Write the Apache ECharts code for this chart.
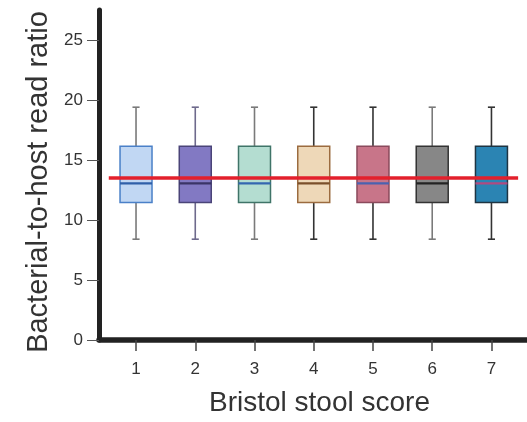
<!DOCTYPE html>
<html>
<head>
<meta charset="utf-8">
<title>Bacterial-to-host read ratio</title>
<script src="https://cdn.jsdelivr.net/npm/echarts@6/dist/echarts.min.js"></script>
<style>
  html, body { margin: 0; padding: 0; background: #fff; }
  #chart { width: 527px; height: 422px; }
</style>
</head>
<body>
<div id="chart"></div>
<script>
// Bristol stool score categories
var categories = [1, 2, 3, 4, 5, 6, 7];
// box stats per score
var whiskerLow = [8.4, 8.4, 8.4, 8.4, 8.4, 8.4, 8.4];
var q1 = [11.45, 11.45, 11.45, 11.45, 11.45, 11.45, 11.45];
var median = [13.05, 13.05, 13.05, 13.05, 13.05, 13.05, 13.05];
var q3 = [16.15, 16.15, 16.15, 16.15, 16.15, 16.15, 16.15];
var whiskerHigh = [19.4, 19.4, 19.4, 19.4, 19.4, 19.4, 19.4];
// overall mean line and the x-span it covers
var refValue = 13.5;
var refSpan = [0.54, 7.45];
var yTicks = [0, 5, 10, 15, 20, 25];

// colours for each box: fill, border, median, whisker
var boxStyles = [
  { fill: '#c1d7f3', border: '#4a80c8', median: '#2f5fa8', whisker: '#7a7a7a' },
  { fill: '#8279c3', border: '#4a4478', median: '#3a3466', whisker: '#6e6a8c' },
  { fill: '#b4ddd1', border: '#3f7468', median: '#3466b0', whisker: '#7a7a7a' },
  { fill: '#eed8b8', border: '#9b6b3f', median: '#7a4f2a', whisker: '#333333' },
  { fill: '#c87589', border: '#8a4a5c', median: '#4a62b0', whisker: '#333333' },
  { fill: '#878787', border: '#333333', median: '#222222', whisker: '#7a7a7a' },
  { fill: '#2b84b3', border: '#1f3442', median: '#b04a80', whisker: '#333333' }
];

var boxData = categories.map(function (c, i) {
  return [c, whiskerLow[i], q1[i], median[i], q3[i], whiskerHigh[i]];
});

function renderBox(params, api) {
  var x = api.value(0);
  var lo = api.coord([x, api.value(1)]);
  var b1 = api.coord([x, api.value(2)]);
  var md = api.coord([x, api.value(3)]);
  var b3 = api.coord([x, api.value(4)]);
  var hi = api.coord([x, api.value(5)]);
  var bw = api.size([0.54, 0])[0];
  var cw = api.size([0.12, 0])[0];
  var s = boxStyles[params.dataIndex];
  var wl = { stroke: s.whisker, lineWidth: 1.6 };
  return {
    type: 'group',
    children: [
      { type: 'line', shape: { x1: lo[0], y1: lo[1], x2: b1[0], y2: b1[1] }, style: wl },
      { type: 'line', shape: { x1: b3[0], y1: b3[1], x2: hi[0], y2: hi[1] }, style: wl },
      { type: 'line', shape: { x1: lo[0] - cw / 2, y1: lo[1], x2: lo[0] + cw / 2, y2: lo[1] }, style: wl },
      { type: 'line', shape: { x1: hi[0] - cw / 2, y1: hi[1], x2: hi[0] + cw / 2, y2: hi[1] }, style: wl },
      {
        type: 'rect',
        shape: { x: b3[0] - bw / 2, y: b3[1], width: bw, height: b1[1] - b3[1] },
        style: { fill: s.fill, stroke: s.border, lineWidth: 1.5 }
      },
      {
        type: 'line',
        shape: { x1: md[0] - bw / 2, y1: md[1], x2: md[0] + bw / 2, y2: md[1] },
        style: { stroke: s.median, lineWidth: 2.2 }
      }
    ]
  };
}

var font = 'Liberation Sans, Arial, sans-serif';
var option = {
  animation: false,
  grid: { left: 99, right: 0, top: 10, bottom: 75 },
  xAxis: {
    type: 'value',
    min: 0.375,
    max: 7.6,
    name: 'Bristol stool score',
    nameLocation: 'middle',
    nameGap: 49,
    nameTextStyle: { fontSize: 28, color: '#333', fontFamily: font, padding: [0, 0, 0, 13] },
    axisLine: { show: true, lineStyle: { color: '#222', width: 5.5, cap: 'round' } },
    axisTick: { show: true, customValues: categories, length: 11, lineStyle: { color: '#444', width: 1.5 } },
    axisLabel: { customValues: categories, fontSize: 17, color: '#333', fontFamily: font, margin: 21 },
    splitLine: { show: false }
  },
  yAxis: {
    type: 'value',
    min: 0,
    max: 27.5,
    interval: 5,
    name: 'Bacterial-to-host read ratio',
    nameLocation: 'middle',
    nameGap: 46,
    nameTextStyle: { fontSize: 29, color: '#333', fontFamily: font, padding: [0, 14, 0, 0] },
    axisLine: { show: true, lineStyle: { color: '#222', width: 5 } },
    axisTick: { show: true, customValues: yTicks, length: 12, lineStyle: { color: '#555', width: 1 } },
    axisLabel: { customValues: yTicks, fontSize: 17, color: '#333', fontFamily: font, margin: 16 },
    splitLine: { show: false }
  },
  series: [
    {
      type: 'custom',
      renderItem: renderBox,
      data: boxData,
      encode: { x: 0, y: [1, 2, 3, 4, 5] },
      z: 2
    },
    {
      type: 'line',
      data: [[refSpan[0], refValue], [refSpan[1], refValue]],
      symbol: 'none',
      lineStyle: { color: '#e3202c', width: 3.5 },
      z: 3
    }
  ]
};

var chart = echarts.init(document.getElementById('chart'));
chart.setOption(option);
</script>
</body>
</html>
